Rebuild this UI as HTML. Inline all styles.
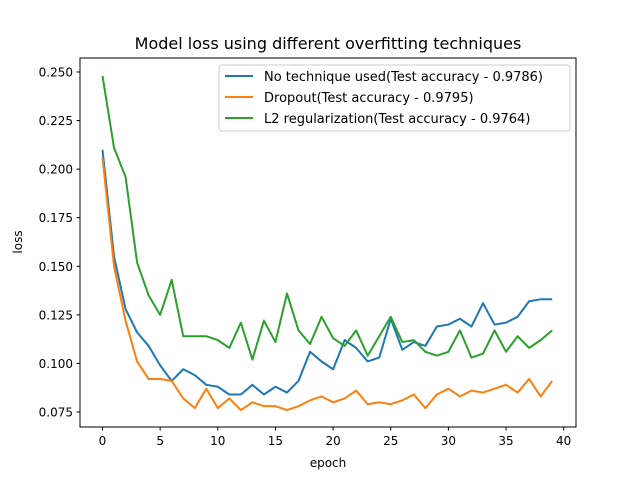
<!DOCTYPE html>
<html><head><meta charset="utf-8"><style>
body{margin:0;background:#fff}
svg{font-family:"DejaVu Sans","Liberation Sans",sans-serif}
</style></head><body>
<svg id="chart" width="640" height="480" xmlns="http://www.w3.org/2000/svg">
<rect width="640" height="480" fill="#fff"/>
<text x="328" y="49" font-size="16" text-anchor="middle">Model loss using different overfitting techniques</text>
<g id="plot"></g>
<rect x="80" y="58" width="496" height="369" fill="none" stroke="#000" stroke-width="1"/>
<text x="328" y="467" font-size="12" text-anchor="middle">epoch</text>
<text transform="translate(22,242) rotate(-90)" font-size="12" text-anchor="middle">loss</text>
<g>
<rect x="219" y="65" width="351" height="66" rx="3" fill="#fff" fill-opacity="0.8" stroke="#ccc"/>
<line x1="225" y1="76" x2="253" y2="76" stroke="#1f77b4" stroke-width="2"/>
<text x="264" y="81" font-size="13">No technique used(Test accuracy - 0.9786)</text>
<line x1="225" y1="97" x2="253" y2="97" stroke="#ff7f0e" stroke-width="2"/>
<text x="264" y="102" font-size="13">Dropout(Test accuracy - 0.9795)</text>
<line x1="225" y1="118" x2="253" y2="118" stroke="#2ca02c" stroke-width="2"/>
<text x="264" y="123" font-size="13">L2 regularization(Test accuracy - 0.9764)</text>
</g>
</svg>
<script>
const noTechnique=[0.210,0.155,0.128,0.116,0.109,0.099,0.091,0.097,0.094,0.089,0.088,0.084,0.084,0.089,0.084,0.088,0.085,0.091,0.106,0.101,0.097,0.112,0.108,0.101,0.103,0.123,0.107,0.111,0.109,0.119,0.120,0.123,0.119,0.131,0.120,0.121,0.124,0.132,0.133,0.133];
const dropout=[0.206,0.150,0.122,0.101,0.092,0.092,0.091,0.082,0.077,0.087,0.077,0.082,0.076,0.080,0.078,0.078,0.076,0.078,0.081,0.083,0.080,0.082,0.086,0.079,0.080,0.079,0.081,0.084,0.077,0.084,0.087,0.083,0.086,0.085,0.087,0.089,0.085,0.092,0.083,0.091];
const l2reg=[0.248,0.211,0.196,0.152,0.135,0.125,0.143,0.114,0.114,0.114,0.112,0.108,0.121,0.102,0.122,0.111,0.136,0.117,0.110,0.124,0.113,0.109,0.117,0.104,0.114,0.124,0.111,0.112,0.106,0.104,0.106,0.117,0.103,0.105,0.117,0.106,0.114,0.108,0.112,0.117];
const xTicks=[0,5,10,15,20,25,30,35,40];
const yTicks=[0.075,0.100,0.125,0.150,0.175,0.200,0.225,0.250];
const NS="http://www.w3.org/2000/svg";
function xs(e){return 102.5+e*11.53;}
function ys(v){return 412-(v-0.075)*1942.9;}
const g=document.getElementById('plot');
function mk(t,a){const el=document.createElementNS(NS,t);for(const k in a)el.setAttribute(k,a[k]);g.appendChild(el);return el;}
xTicks.forEach(t=>{
 const l=mk('line',{x1:xs(t),x2:xs(t),y1:427,y2:430.5,stroke:'#000'});
 
 
 const tx=mk('text',{x:xs(t),y:445,'font-size':12,'text-anchor':'middle'});
 
 
 tx.textContent=t;
});
yTicks.forEach(t=>{
 const l=mk('line',{x1:76.5,x2:80,y1:ys(t),y2:ys(t),stroke:'#000'});
 
 
 const tx=mk('text',{x:73,y:ys(t)+4.5,'font-size':12,'text-anchor':'end'});
 
 
 tx.textContent=t.toFixed(3);
});
[[noTechnique,'#1f77b4','line-no-technique'],[dropout,'#ff7f0e','line-dropout'],[l2reg,'#2ca02c','line-l2']].forEach(([d,c,n])=>{
 const p=mk('polyline',{points:d.map((v,i)=>xs(i)+','+ys(v)).join(' '),fill:'none',stroke:c,'stroke-width':2,'stroke-linejoin':'round'});
 
 
});
</script>
</body></html>
